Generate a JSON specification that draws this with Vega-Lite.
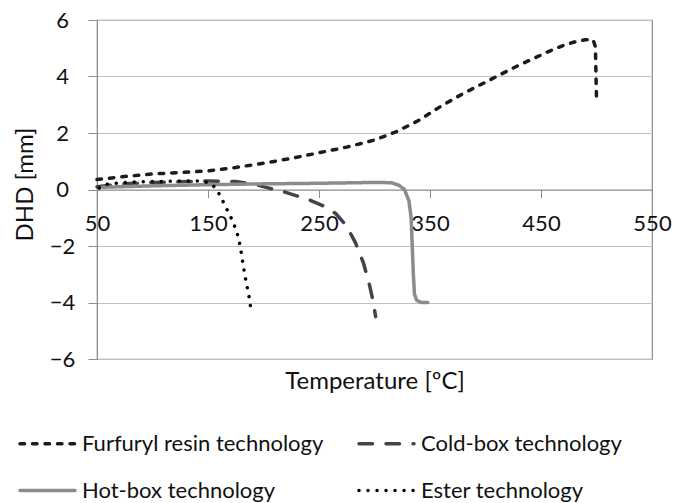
{
  "$schema": "https://vega.github.io/schema/vega-lite/v6.json",
  "width": 555,
  "height": 339,
  "autosize": {"type": "none"},
  "padding": {"left": 97, "top": 20, "right": 39, "bottom": 144},
  "background": "white",
  "config": {
    "font": "Lato",
    "view": {"stroke": "#8c8c8c", "strokeWidth": 1.2},
    "axis": {"labelFont": "Lato", "titleFont": "Lato", "labelColor": "#111", "titleColor": "#111", "titleFontWeight": "normal", "labelFontSize": 22, "titleFontSize": 24, "domainColor": "#8c8c8c", "tickColor": "#8c8c8c", "gridColor": "#c0c0c0"}
  },
  "data": {"values": [
    {"s": "Furfuryl resin technology", "t": 50, "d": 0.35},
    {"s": "Furfuryl resin technology", "t": 75, "d": 0.46},
    {"s": "Furfuryl resin technology", "t": 100, "d": 0.55},
    {"s": "Furfuryl resin technology", "t": 125, "d": 0.6},
    {"s": "Furfuryl resin technology", "t": 150, "d": 0.66},
    {"s": "Furfuryl resin technology", "t": 175, "d": 0.78},
    {"s": "Furfuryl resin technology", "t": 200, "d": 0.93},
    {"s": "Furfuryl resin technology", "t": 225, "d": 1.1},
    {"s": "Furfuryl resin technology", "t": 250, "d": 1.3},
    {"s": "Furfuryl resin technology", "t": 275, "d": 1.5},
    {"s": "Furfuryl resin technology", "t": 300, "d": 1.75},
    {"s": "Furfuryl resin technology", "t": 320, "d": 2.05},
    {"s": "Furfuryl resin technology", "t": 340, "d": 2.45},
    {"s": "Furfuryl resin technology", "t": 360, "d": 2.95},
    {"s": "Furfuryl resin technology", "t": 380, "d": 3.4},
    {"s": "Furfuryl resin technology", "t": 410, "d": 4.0},
    {"s": "Furfuryl resin technology", "t": 430, "d": 4.4},
    {"s": "Furfuryl resin technology", "t": 455, "d": 4.85},
    {"s": "Furfuryl resin technology", "t": 470, "d": 5.1},
    {"s": "Furfuryl resin technology", "t": 480, "d": 5.22},
    {"s": "Furfuryl resin technology", "t": 490, "d": 5.3},
    {"s": "Furfuryl resin technology", "t": 497, "d": 5.3},
    {"s": "Furfuryl resin technology", "t": 499, "d": 5.05},
    {"s": "Furfuryl resin technology", "t": 500, "d": 3.2},
    {"s": "Cold-box technology", "t": 50, "d": 0.1},
    {"s": "Cold-box technology", "t": 75, "d": 0.2},
    {"s": "Cold-box technology", "t": 100, "d": 0.25},
    {"s": "Cold-box technology", "t": 150, "d": 0.3},
    {"s": "Cold-box technology", "t": 175, "d": 0.28},
    {"s": "Cold-box technology", "t": 190, "d": 0.2},
    {"s": "Cold-box technology", "t": 205, "d": 0.05},
    {"s": "Cold-box technology", "t": 220, "d": -0.1},
    {"s": "Cold-box technology", "t": 240, "d": -0.35},
    {"s": "Cold-box technology", "t": 255, "d": -0.6},
    {"s": "Cold-box technology", "t": 265, "d": -0.85},
    {"s": "Cold-box technology", "t": 275, "d": -1.3},
    {"s": "Cold-box technology", "t": 283, "d": -1.9},
    {"s": "Cold-box technology", "t": 290, "d": -2.6},
    {"s": "Cold-box technology", "t": 295, "d": -3.3},
    {"s": "Cold-box technology", "t": 299, "d": -4.0},
    {"s": "Cold-box technology", "t": 301, "d": -4.5},
    {"s": "Hot-box technology", "t": 55, "d": 0.08},
    {"s": "Hot-box technology", "t": 100, "d": 0.13},
    {"s": "Hot-box technology", "t": 150, "d": 0.17},
    {"s": "Hot-box technology", "t": 200, "d": 0.2},
    {"s": "Hot-box technology", "t": 250, "d": 0.22},
    {"s": "Hot-box technology", "t": 300, "d": 0.25},
    {"s": "Hot-box technology", "t": 315, "d": 0.24},
    {"s": "Hot-box technology", "t": 322, "d": 0.15},
    {"s": "Hot-box technology", "t": 327, "d": 0.0},
    {"s": "Hot-box technology", "t": 331, "d": -0.4},
    {"s": "Hot-box technology", "t": 333, "d": -1.0},
    {"s": "Hot-box technology", "t": 334, "d": -2.0},
    {"s": "Hot-box technology", "t": 335, "d": -3.0},
    {"s": "Hot-box technology", "t": 336, "d": -3.7},
    {"s": "Hot-box technology", "t": 338, "d": -3.92},
    {"s": "Hot-box technology", "t": 342, "d": -4.0},
    {"s": "Hot-box technology", "t": 348, "d": -4.0},
    {"s": "Ester technology", "t": 52, "d": 0.05},
    {"s": "Ester technology", "t": 60, "d": 0.2},
    {"s": "Ester technology", "t": 80, "d": 0.26},
    {"s": "Ester technology", "t": 100, "d": 0.28},
    {"s": "Ester technology", "t": 125, "d": 0.3},
    {"s": "Ester technology", "t": 145, "d": 0.3},
    {"s": "Ester technology", "t": 152, "d": 0.22},
    {"s": "Ester technology", "t": 157, "d": 0.05},
    {"s": "Ester technology", "t": 162, "d": -0.3},
    {"s": "Ester technology", "t": 167, "d": -0.7},
    {"s": "Ester technology", "t": 172, "d": -1.1},
    {"s": "Ester technology", "t": 176, "d": -1.5},
    {"s": "Ester technology", "t": 179, "d": -2.0},
    {"s": "Ester technology", "t": 181, "d": -2.5},
    {"s": "Ester technology", "t": 183, "d": -3.0},
    {"s": "Ester technology", "t": 185, "d": -3.4},
    {"s": "Ester technology", "t": 187, "d": -3.8},
    {"s": "Ester technology", "t": 188.5, "d": -4.2}
  ]},
  "mark": {"type": "line", "strokeWidth": 3.5, "strokeCap": "round", "strokeJoin": "round"},
  "encoding": {
    "x": {"field": "t", "type": "quantitative",
      "scale": {"domain": [50, 550], "nice": false, "zero": false},
      "axis": {"title": "Temperature [ºC]", "values": [50, 150, 250, 350, 450, 550], "grid": false, "offset": -169.5, "tickSize": 8, "labelPadding": 16, "titleY": 192, "titleBaseline": "middle", "labelFlush": false}},
    "y": {"field": "d", "type": "quantitative",
      "scale": {"domain": [-6, 6], "nice": false},
      "axis": {"title": "DHD [mm]", "values": [-6, -4, -2, 0, 2, 4, 6], "grid": true, "tickSize": 9, "labelAlign": "center", "labelPadding": 26, "titleX": -72, "titleY": 164, "titleBaseline": "middle", "titleAngle": -90, "titleAnchor": "middle"}},
    "color": {"field": "s", "type": "nominal",
      "scale": {"domain": ["Furfuryl resin technology", "Cold-box technology", "Hot-box technology", "Ester technology"], "range": ["#1c1c1c", "#444444", "#8c8c8c", "#000000"]},
      "legend": {"title": null, "orient": "none", "direction": "horizontal", "legendX": -79, "legendY": 394, "columns": 2, "symbolType": "stroke", "symbolSize": 3025, "symbolStrokeWidth": 3.5, "labelFont": "Lato", "labelFontSize": 22, "labelColor": "#111", "labelLimit": 400, "columnPadding": 28, "rowPadding": 6, "labelOffset": 5, "symbolOffset": 0,
        "encode": {"symbols": {"update": {"strokeCap": {"value": "round"}}}}}},
    "strokeDash": {"field": "s", "type": "nominal",
      "scale": {"domain": ["Furfuryl resin technology", "Cold-box technology", "Hot-box technology", "Ester technology"], "range": [[4.5, 8], [13.5, 13.5], [1, 0], [0.01, 9]]}},
    "order": {"field": "t", "type": "quantitative"}
  }
}
